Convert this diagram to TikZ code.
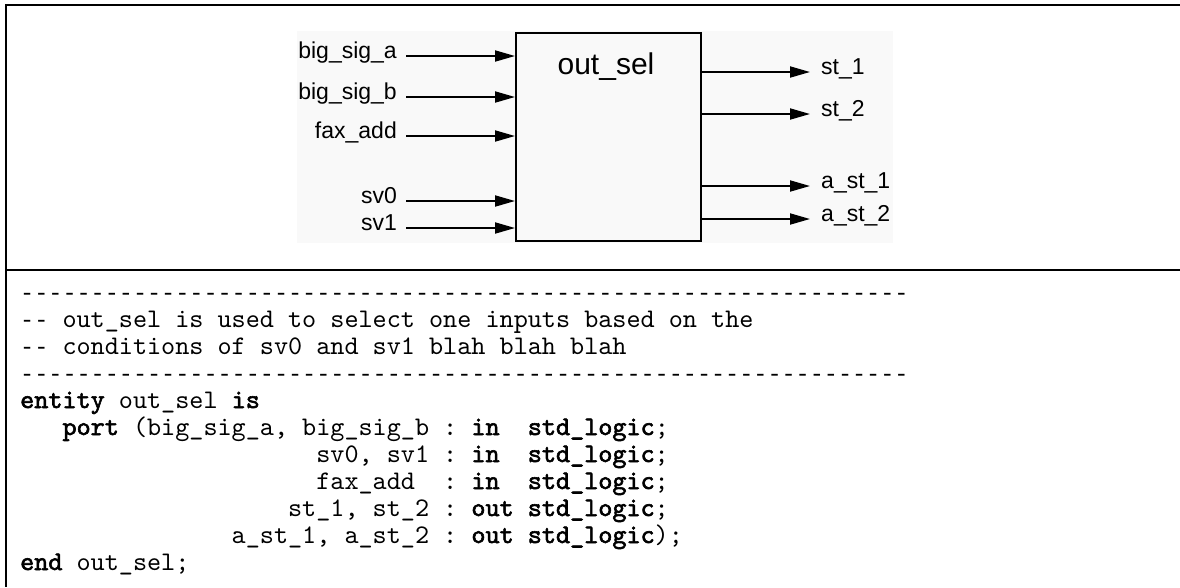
\documentclass[tikz,border=0pt]{standalone}
\usepackage{fontspec}
\setmainfont{Liberation Sans}
% typewriter face for the listing, with a heavy (emboldened) keyword weight
\setmonofont{lmmono10-regular.otf}[BoldFont=lmmono10-regular.otf, BoldFeatures={FakeBold=2.2}]
% short, separated hyphens for the comment rules (same 0.6em pitch)
\newfontfamily\rulefont{Liberation Mono}
\usetikzlibrary{arrows.meta}

% a row of n separate hyphens
\newcommand\hyphenrow[1]{\ifnum#1>0 -{}\expandafter\hyphenrow\expandafter{\number\numexpr#1-1\relax}\fi}
\newcommand\rulerow[1]{{\rulefont\fontsize{23.5}{27}\selectfont\hyphenrow{#1}}}
\newcommand\kw[1]{\textbf{#1}}

\begin{document}
\begin{tikzpicture}[x=1pt,y=-1pt,
  frame/.style={line width=2pt, line join=miter},
  sig/.style={line width=1.9pt, -{Triangle[length=20pt,width=11pt]}},
  inlabel/.style={anchor=mid east, inner sep=0pt, font=\fontsize{23}{26}\selectfont},
  outlabel/.style={anchor=mid west, inner sep=0pt, font=\fontsize{23}{26}\selectfont},
  codeline/.style={anchor=base west, inner sep=0pt, font=\ttfamily\fontsize{26.86}{27}\selectfont}
]
\useasboundingbox (0,0) rectangle (1180,587);

% outer frame: top rule, left rule, divider
\draw[frame] (1180,5) -- (6,5) -- (6,587);
\draw[frame] (6,270) -- (1180,270);

% block diagram
\fill[black!2.5] (297,31) rectangle (893,243);
\node[draw, line width=2pt, minimum width=185pt, minimum height=208pt,
      anchor=north west, inner sep=0pt] (blk) at (515,32) {};
\node[anchor=base, inner sep=0pt, font=\fontsize{30}{34}\selectfont] (title) at (606,74) {out\_sel};

% inputs
\node[inlabel] (a)  at (397,56)  {big\_sig\_a};
\node[inlabel] (b)  at (397,97)  {big\_sig\_b};
\node[inlabel] (fx) at (397,136) {fax\_add};
\node[inlabel] (s0) at (397,201) {sv0};
\node[inlabel] (s1) at (397,228) {sv1};
\foreach \n in {a,b,fx,s0,s1}
  \draw[sig] ([xshift=9pt]\n.mid east) -- (blk.west |- \n.mid east);

% outputs
\node[outlabel] (o1) at (821,72)  {st\_1};
\node[outlabel] (o2) at (821,114) {st\_2};
\node[outlabel] (o3) at (821,186) {a\_st\_1};
\node[outlabel] (o4) at (821,219) {a\_st\_2};
\foreach \n in {o1,o2,o3,o4}
  \draw[sig] (blk.east |- \n.mid west) -- ([xshift=-11pt]\n.mid west);

% VHDL entity declaration (column width 14.1pt, line pitch 27pt)
\node[codeline] (c0)  at (20,300)  {\rulerow{63}};
\node[codeline] (c1)  at (20,327)  {\rulerow{2} out\_sel is used to select one inputs based on the};
\node[codeline] (c2)  at (20,354)  {\rulerow{2} conditions of sv0 and sv1 blah blah blah};
\node[codeline] (c3)  at (20,381)  {\rulerow{63}};
\node[codeline] (c4)  at (20,408)  {\kw{entity} out\_sel \kw{is}};
\node[codeline] (c5)  at (62.3,435)  {\kw{port} (big\_sig\_a, big\_sig\_b : \kw{in}~~\kw{std\_logic};};
\node[codeline] (c6)  at (316.1,462) {sv0, sv1 : \kw{in}~~\kw{std\_logic};};
\node[codeline] (c7)  at (316.1,489) {fax\_add~~: \kw{in}~~\kw{std\_logic};};
\node[codeline] (c8)  at (287.9,516) {st\_1, st\_2 : \kw{out} \kw{std\_logic};};
\node[codeline] (c9)  at (231.5,543) {a\_st\_1, a\_st\_2 : \kw{out} \kw{std\_logic});};
\node[codeline] (c10) at (20,570)  {\kw{end} out\_sel;};
\end{tikzpicture}
\end{document}
